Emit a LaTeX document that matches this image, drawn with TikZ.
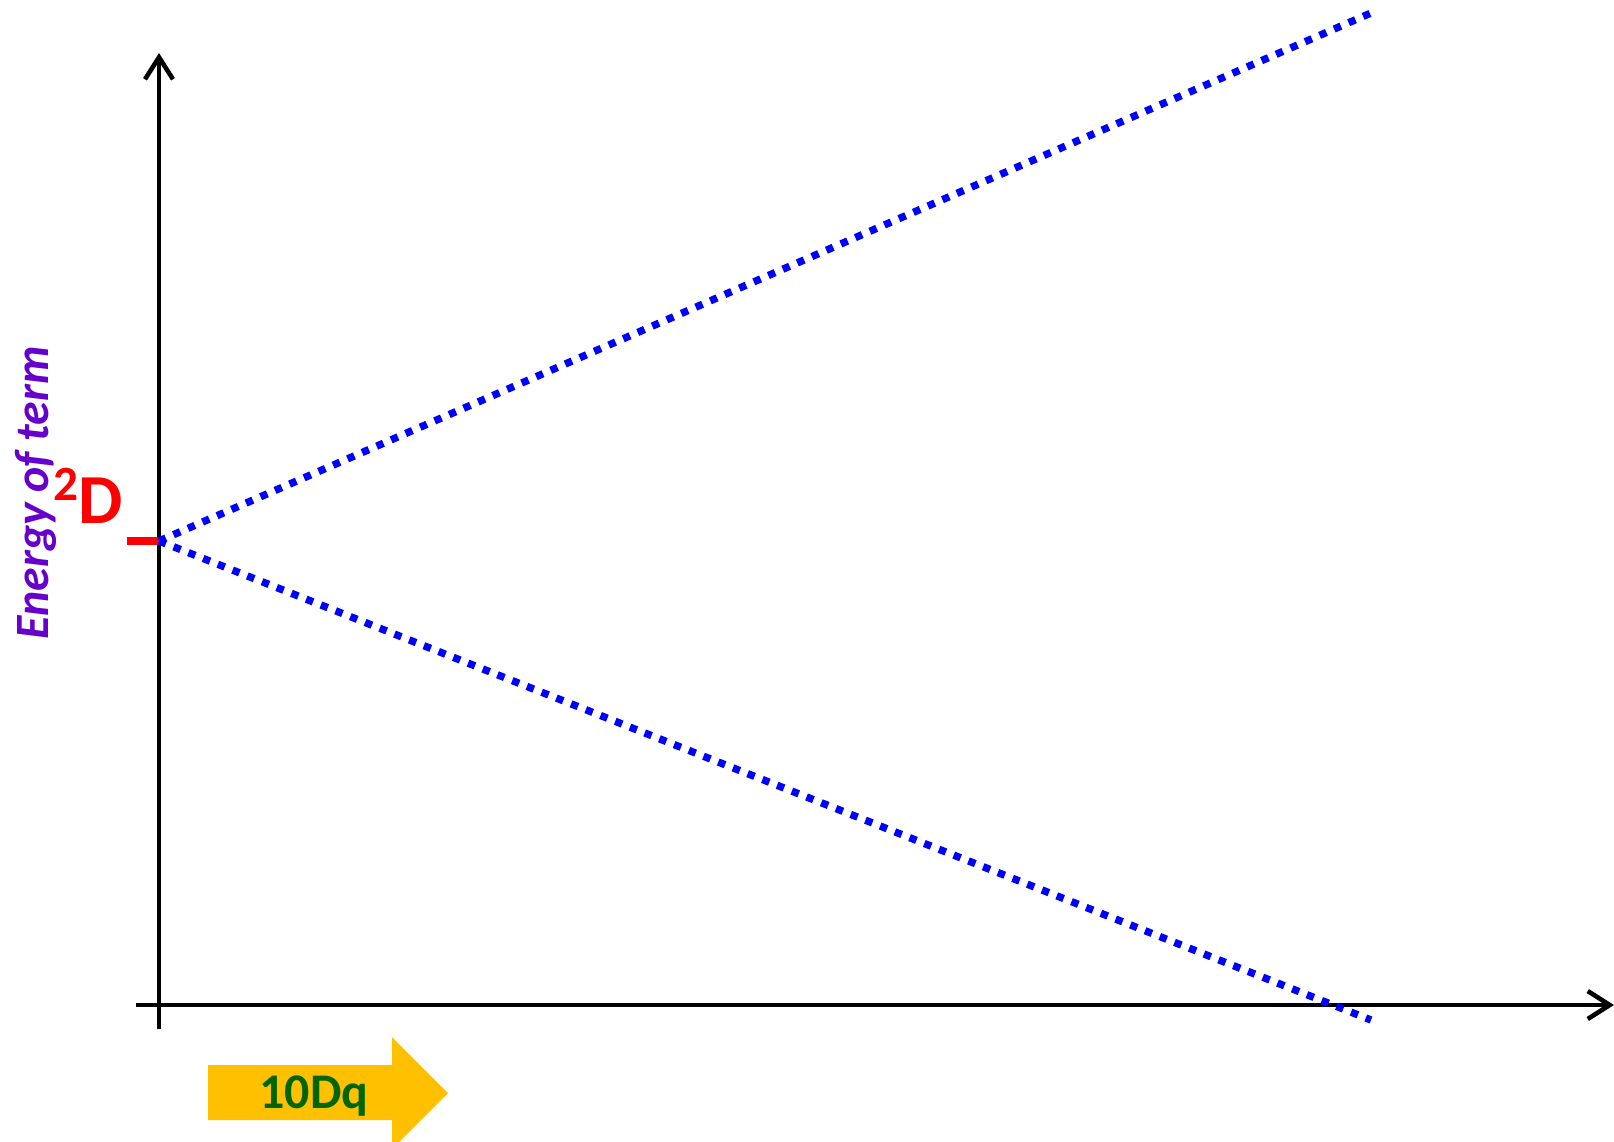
\documentclass[tikz,border=0pt]{standalone}
\usepackage{fontspec}
\setmainfont{Carlito}
\usetikzlibrary{arrows.meta}

\definecolor{termpurple}{RGB}{102,0,204}
\definecolor{dqgreen}{RGB}{0,102,0}
\definecolor{dqyellow}{RGB}{255,192,0}

\begin{document}
\begin{tikzpicture}[
    x=0.01cm, y=-0.01cm,
    % Define styles for reusable components
    axis/.style={line width=1.3pt, -{Straight Barb[length=2.2mm, width=2.8mm, line width=1.3pt]}},
    split/.style={blue, line width=2.1pt, dash pattern=on 2.1pt off 2.4pt},
    level/.style={red, line width=2.3pt},
    label/.style={inner sep=0pt, font=\bfseries}
]
    \useasboundingbox (0,0) rectangle (1614,1142);

    % --- AXES ---
    \coordinate (ybot) at (159, 1029);
    \coordinate (ytop) at (159, 53);
    \coordinate (xleft) at (136, 1005);
    \coordinate (xright) at (1614, 1005);
    \draw[axis] (ybot) -- (ytop);
    \draw[axis] (xleft) -- (xright);
    \node[label, termpurple, anchor=base, rotate=90, font=\fontsize{13.6}{14}\bfseries\itshape]
        (energy) at (48, 493) {Energy of term};

    % --- FREE ION TERM ---
    \coordinate (D) at (159, 541);
    \coordinate (tick) at (127, 541);
    \draw[level] (tick) -- (D);
    \node[label, red, anchor=base west, font=\fontsize{20}{22}\bfseries]
        (term) at (53, 523) {\raisebox{6.5pt}{\fontsize{14}{14}\selectfont 2}D};

    % --- SPLITTING IN THE FIELD ---
    \coordinate (up) at (1371, 13);
    \coordinate (down) at (1371, 1020);
    \draw[split] (D) -- (up);
    \draw[split] (D) -- (down);

    % --- 10Dq ARROW ---
    \fill[dqyellow] (208, 1065) -- (392, 1065) -- (392, 1037) -- (448, 1093)
        -- (392, 1149) -- (392, 1120) -- (208, 1120) -- cycle;
    \node[label, dqgreen, anchor=base, font=\fontsize{14.2}{15}\bfseries]
        (dq) at (314, 1108) {10Dq};

\end{tikzpicture}
\end{document}
